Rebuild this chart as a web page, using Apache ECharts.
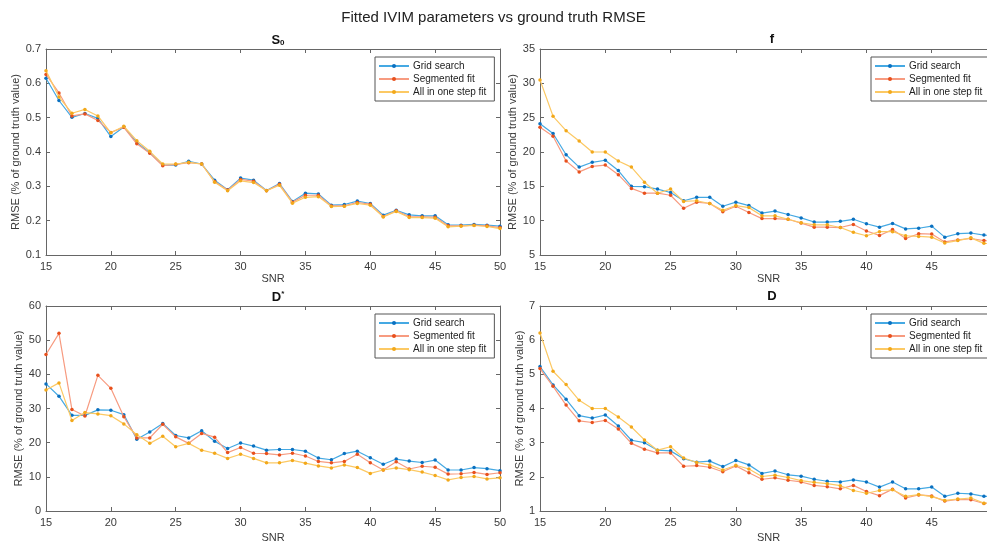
<!DOCTYPE html>
<html>
<head>
<meta charset="utf-8">
<script src="https://cdn.jsdelivr.net/npm/echarts@6/dist/echarts.min.js"></script>
<style>
html,body{margin:0;padding:0;background:#fff;}
#chart{width:987px;height:544px;}
</style>
</head>
<body>
<div id="chart"></div>
<script>
const snr = [15,16,17,18,19,20,21,22,23,24,25,26,27,28,29,30,31,32,33,34,35,36,37,38,39,40,41,42,43,44,45,46,47,48,49,50];
const seriesNames = ['Grid search', 'Segmented fit', 'All in one step fit'];

const s0Grid = [0.615,0.550,0.501,0.512,0.498,0.445,0.473,0.428,0.398,0.362,0.362,0.373,0.365,0.318,0.290,0.324,0.318,0.288,0.308,0.256,0.280,0.278,0.245,0.247,0.257,0.250,0.216,0.230,0.217,0.214,0.214,0.188,0.187,0.189,0.187,0.184];
const s0Seg  = [0.626,0.572,0.505,0.511,0.492,0.457,0.472,0.424,0.396,0.360,0.364,0.369,0.365,0.314,0.289,0.320,0.315,0.287,0.306,0.254,0.274,0.274,0.243,0.243,0.253,0.248,0.212,0.229,0.212,0.211,0.210,0.185,0.185,0.187,0.185,0.180];
const s0All  = [0.637,0.560,0.513,0.524,0.505,0.456,0.475,0.433,0.402,0.365,0.365,0.370,0.365,0.312,0.287,0.316,0.311,0.287,0.303,0.251,0.268,0.270,0.241,0.242,0.250,0.245,0.211,0.227,0.209,0.209,0.207,0.182,0.184,0.186,0.183,0.177];

const fGrid = [24.1,22.7,19.6,17.8,18.5,18.8,17.3,15.0,14.95,14.6,14.1,12.9,13.4,13.4,12.1,12.7,12.2,11.1,11.4,10.9,10.4,9.8,9.8,9.9,10.2,9.55,9.05,9.6,8.8,8.9,9.2,7.6,8.1,8.2,7.9,7.8];
const fSeg  = [23.6,22.3,18.7,17.1,17.9,18.1,16.7,14.7,14.0,14.0,13.7,11.8,12.7,12.5,11.3,12.1,11.2,10.3,10.3,10.2,9.65,9.05,9.05,9.0,9.45,8.5,7.85,8.7,7.4,8.1,8.05,6.9,7.2,7.4,7.1,7.0];
const fAll  = [30.5,25.2,23.1,21.6,20.0,20.0,18.7,17.8,15.6,14.0,14.6,12.8,12.9,12.5,11.5,12.2,11.9,10.7,10.7,10.2,9.7,9.4,9.4,9.0,8.3,7.8,8.4,8.4,7.8,7.7,7.6,6.75,7.1,7.5,6.7,6.6];

const dStarGrid = [37.2,33.6,28.0,28.0,29.6,29.5,28.2,21.0,23.1,25.6,22.1,21.4,23.5,20.4,18.3,19.9,19.0,17.8,18.0,18.0,17.5,15.5,15.0,16.8,17.5,15.6,13.7,15.2,14.6,14.2,14.9,12.0,12.0,12.7,12.4,11.8];
const dStarSeg  = [45.8,52.0,29.7,27.8,39.7,35.9,27.6,21.4,21.4,25.4,21.7,19.8,22.7,21.6,17.1,18.6,16.9,16.8,16.4,16.9,16.1,14.5,14.1,14.5,16.6,14.1,12.0,14.4,12.3,13.1,12.8,10.8,10.9,11.3,10.7,11.2];
const dStarAll  = [35.4,37.5,26.5,28.8,28.4,27.9,25.5,22.3,19.8,21.9,18.8,19.8,17.8,16.9,15.4,16.6,15.4,14.1,14.1,14.8,14.0,13.2,12.6,13.5,12.7,11.0,12.0,12.6,12.1,11.4,10.4,9.1,9.8,10.1,9.4,9.7];

const dGrid = [5.23,4.69,4.27,3.79,3.72,3.81,3.49,3.07,3.00,2.78,2.76,2.53,2.43,2.46,2.30,2.48,2.35,2.10,2.17,2.06,2.02,1.93,1.87,1.85,1.91,1.85,1.70,1.85,1.65,1.65,1.70,1.43,1.52,1.50,1.43,1.43];
const dSeg  = [5.17,4.65,4.10,3.64,3.59,3.65,3.40,2.98,2.81,2.70,2.70,2.31,2.33,2.28,2.15,2.32,2.12,1.93,1.97,1.90,1.85,1.75,1.71,1.65,1.75,1.57,1.45,1.64,1.38,1.47,1.44,1.29,1.34,1.33,1.22,1.25];
const dAll  = [6.21,5.09,4.70,4.24,4.00,4.00,3.75,3.46,3.08,2.78,2.88,2.55,2.42,2.35,2.20,2.34,2.23,2.01,2.05,1.98,1.89,1.84,1.80,1.74,1.60,1.52,1.60,1.62,1.43,1.48,1.42,1.31,1.35,1.38,1.23,1.25];

const yRanges = [[0.1,0.7,0.1],[5,35,5],[0,60,10],[1,7,1]];
const panelTitles = ['{a|S}{sub|0}', '{a|f}', '{a|D}{sup|*}', '{a|D}'];
const panelData = [[s0Grid,s0Seg,s0All],[fGrid,fSeg,fAll],[dStarGrid,dStarSeg,dStarAll],[dGrid,dSeg,dAll]];

const lineColors = ['#45a9e3','#f79b80','#fcc964'];
const markColors = ['#0a70c0','#e8501c','#f2a81a'];
const FONT = '"Liberation Sans", Arial, sans-serif';
const axisCol = '#666';
const textCol = '#3a3a3a';

const grids = [
  {left:46, top:49, width:454, height:206, outerBoundsMode:'none'},
  {left:540, top:49, width:457, height:206, outerBoundsMode:'none'},
  {left:46, top:306, width:454, height:205, outerBoundsMode:'none'},
  {left:540, top:306, width:457, height:205, outerBoundsMode:'none'}
];
const legendPos = [{left:375, top:57},{left:871, top:57},{left:375, top:314},{left:871, top:314}];
const titlePos = [{x:273, y:28},{x:767, y:28},{x:273, y:285},{x:767, y:285}];

const xAxes = [], yAxes = [], series = [], titles = [], legends = [];
titles.push({text:'Fitted IVIM parameters vs ground truth RMSE', left:'center', top:5,
  textStyle:{fontFamily:FONT, fontSize:15, fontWeight:'normal', color:'#222'}});

for (let g = 0; g < 4; g++) {
  const isLeft = (g % 2 === 0);
  const r = yRanges[g];
  xAxes.push({gridIndex:g, type:'value', min:15, max:50, interval:5, position:'bottom',
    name:'SNR', nameLocation:'middle', nameGap: g < 2 ? 18 : 21,
    nameTextStyle:{fontFamily:FONT, fontSize:11, color:textCol},
    axisLine:{show:true, onZero:false, lineStyle:{color:axisCol, width:1}},
    axisTick:{show:true, inside:true, length:4, lineStyle:{color:axisCol}},
    axisLabel:{fontFamily:FONT, fontSize:11, color:textCol, margin:6,
      showMaxLabel:true, showMinLabel:true},
    splitLine:{show:false}});
  xAxes.push({gridIndex:g, type:'value', min:15, max:50, interval:5, position:'top',
    axisLine:{show:true, onZero:false, lineStyle:{color:axisCol, width:1}},
    axisTick:{show:true, inside:true, length:4, lineStyle:{color:axisCol}},
    axisLabel:{show:false}, splitLine:{show:false}});
  yAxes.push({gridIndex:g, type:'value', min:r[0], max:r[1], interval:r[2], position:'left',
    name:'RMSE (% of ground truth value)', nameLocation:'middle', nameRotate:90,
    nameGap: isLeft ? 22 : 15,
    nameTextStyle:{fontFamily:FONT, fontSize:11, color:textCol},
    axisLine:{show:true, onZero:false, lineStyle:{color:axisCol, width:1}},
    axisTick:{show:true, inside:true, length:4, lineStyle:{color:axisCol}},
    axisLabel:{fontFamily:FONT, fontSize:11, color:textCol, margin:5,
      formatter: g === 0 ? (v => v.toFixed(1)) : (v => String(Math.round(v)))},
    splitLine:{show:false}});
  yAxes.push({gridIndex:g, type:'value', min:r[0], max:r[1], interval:r[2], position:'right',
    axisLine:{show:true, onZero:false, lineStyle:{color:axisCol, width:1}},
    axisTick:{show:true, inside:true, length:4, lineStyle:{color:axisCol}},
    axisLabel:{show:false}, splitLine:{show:false}});

  titles.push({text: panelTitles[g], left: titlePos[g].x, top: titlePos[g].y, textAlign:'center',
    textStyle:{fontFamily:FONT, rich:{
      a:{fontSize:13, fontWeight:'bold', color:'#111', fontFamily:FONT},
      sub:{fontSize:8, fontWeight:'bold', color:'#111', fontFamily:FONT, padding:[6,0,0,0]},
      sup:{fontSize:8, fontWeight:'bold', color:'#111', fontFamily:FONT, padding:[0,0,7,0]}
    }}});

  legends.push({left:legendPos[g].left, top:legendPos[g].top, orient:'vertical',
    data: seriesNames, itemWidth:30, itemHeight:5, itemGap:1,
    padding:[3,8,3,3], borderColor:'#555', borderWidth:1, backgroundColor:'#fff',
    textStyle:{fontFamily:FONT, fontSize:10, color:'#222', padding:[0,0,0,-1], lineHeight:12},
    selectedMode:false});

  for (let s = 0; s < 3; s++) {
    const vals = panelData[g][s];
    series.push({name: seriesNames[s], type:'line', xAxisIndex: 2*g, yAxisIndex: 2*g,
      data: snr.map((x, i) => [x, vals[i]]),
      symbol:'circle', symbolSize:3.5, showSymbol:true, animation:false,
      lineStyle:{color: lineColors[s], width:1.2},
      itemStyle:{color: markColors[s]},
      emphasis:{disabled:true}, z: 2 + s});
  }
}

const chart = echarts.init(document.getElementById('chart'), null, {renderer:'canvas'});
chart.setOption({
  backgroundColor:'#fff',
  animation:false,
  title: titles,
  legend: legends,
  grid: grids,
  xAxis: xAxes,
  yAxis: yAxes,
  series: series
});
</script>
</body>
</html>
